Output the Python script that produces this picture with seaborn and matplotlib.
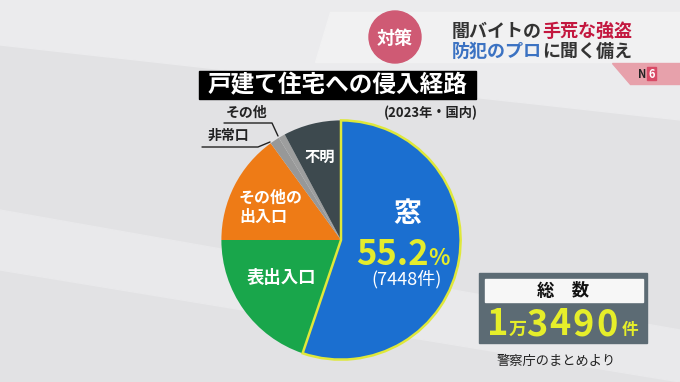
import matplotlib
matplotlib.use("Agg")
import matplotlib.pyplot as plt
import seaborn as sns
from matplotlib.patches import Rectangle, Circle, Polygon

# --- data ---
routes = ["窓", "表出入口", "その他の出入口", "非常口", "その他", "不明"]
shares = [55.2, 19.8, 15.0, 1.3, 0.9, 7.8]
route_colors = ["#1b6fd0", "#19a64b", "#ee7b16", "#979898", "#9d9e9e", "#3d494e"]
window_count = 7448
total_count = "3490"

title = "戸建て住宅への侵入経路"
subtitle = "(2023年・国内)"
source = "警察庁のまとめより"

sns.set_theme(style="white")
plt.rcParams["font.family"] = ["Noto Sans CJK JP", "DejaVu Sans"]

fig = plt.figure(figsize=(6.8, 3.82), dpi=100)
fig.patch.set_facecolor("#e2e2e4")


def pixel_axes(z):
    a = fig.add_axes([0, 0, 1, 1])
    a.set_xlim(0, 680)
    a.set_ylim(382, 0)
    a.axis("off")
    a.set_zorder(z)
    return a


back = pixel_axes(0)
# soft diagonal bands in the backdrop
back.add_patch(Polygon([(0, 0), (680, 0), (680, 120), (0, 45)], color="#ebebed"))
back.add_patch(Polygon([(0, 210), (680, 330), (680, 382), (0, 270)], color="#e9e9eb"))
back.add_patch(Polygon([(330, 12), (680, 12), (680, 62), (315, 62)], color="#f1f1f2"))

# --- pie ---
cx, cy, r = 341, 240, 122
pax = fig.add_axes([(cx - r) / 680, (382 - cy - r) / 382, 2 * r / 680, 2 * r / 382])
pax.set_zorder(1)
wedges, _ = pax.pie(shares, colors=route_colors, startangle=90, counterclock=False,
                    radius=1, wedgeprops=dict(linewidth=0))
wedges[0].set_edgecolor("#dfe83a")
wedges[0].set_linewidth(1.8)
wedges[0].set_zorder(5)
pax.set_xlim(-1.02, 1.02)
pax.set_ylim(-1.02, 1.02)
pax.axis("off")

front = pixel_axes(2)
renderer = fig.canvas.get_renderer()


def run_text(x, y, parts, gap=0):
    # place text pieces one after another on a shared baseline
    for s, size, color in parts:
        t = front.text(x, y, s, fontsize=size, color=color, fontweight="bold",
                       ha="left", va="baseline", zorder=6)
        x += t.get_window_extent(renderer=renderer).width + gap
    return x


# --- header ---
front.add_patch(Circle((395, 37), 26, color="#cf5a74", zorder=2))
front.text(395, 38, "対策", fontsize=13, color="white", fontweight="bold",
           ha="center", va="center", zorder=3)
run_text(452, 37, [("闇バイトの", 13, "#333333"), ("手荒な強盗", 13, "#c3173f")])
run_text(452, 57, [("防犯のプロ", 13, "#3b72c2"), ("に聞く備え", 13, "#333333")])
front.add_patch(Polygon([(612, 63), (680, 63), (680, 84), (630, 84)], color="#e7a1ab", zorder=2))
front.text(642, 74, "N", fontsize=8, color="#222222", fontweight="bold", ha="center", va="center", zorder=3)
front.add_patch(Rectangle((647, 67), 9, 13, color="#d84a66", zorder=3))
front.text(651.5, 74, "6", fontsize=8, color="white", fontweight="bold", ha="center", va="center", zorder=4)

# --- title ---
front.add_patch(Rectangle((199, 71), 277, 28, color="black", zorder=2))
front.text(337, 85, title, fontsize=17, color="white", fontweight="bold",
           ha="center", va="center", zorder=3)
front.text(478, 113, subtitle, fontsize=9.5, color="#222222", fontweight="bold",
           ha="right", va="center")

# labels inside the pie
front.text(407, 214, routes[0], fontsize=20, color="white", fontweight="bold", ha="center", va="center")
x = run_text(356, 265, [("55.2", 25, "#e4ec2c")])
run_text(x, 265, [("%", 16, "#e4ec2c")])
front.text(407, 279, f"({window_count}件)", fontsize=13, color="white", ha="center", va="center")
front.text(281, 278, routes[1], fontsize=12.5, color="white", fontweight="bold", ha="center", va="center")
front.text(239, 198, "その他の", fontsize=11.5, color="white", fontweight="bold", ha="left", va="center")
front.text(239, 217, "出入口", fontsize=11.5, color="white", fontweight="bold", ha="left", va="center")
front.text(320, 157, routes[5], fontsize=11, color="white", fontweight="bold", ha="center", va="center")

# small slices labelled outside with leader lines
front.text(247, 113, routes[4], fontsize=10, color="#222222", fontweight="bold", ha="center", va="center")
front.plot([224, 272, 278], [123, 123, 136], color="#222222", lw=1)
front.text(228, 136, routes[3], fontsize=10, color="#222222", fontweight="bold", ha="center", va="center")
front.plot([202, 258, 270], [147, 147, 142], color="#222222", lw=1)

# --- total box ---
front.add_patch(Rectangle((479, 273), 168, 70, color="#5c6b74", zorder=2))
front.add_patch(Rectangle((485, 279), 158, 23, color="#f7f7f7", zorder=3))
front.text(563, 291, "総　数", fontsize=12.5, color="#111111", fontweight="bold",
           ha="center", va="center", zorder=4)
x = run_text(487, 335, [("1", 26, "#e6ee2a")])
x = run_text(x, 335, [("万", 13, "#e6ee2a")])
for d in total_count:
    x = run_text(x, 335, [(d, 26, "#e6ee2a")], gap=2)
run_text(x + 2, 335, [("件", 12, "#e6ee2a")])

front.text(556, 361, source, fontsize=9.5, color="#222222", ha="center", va="center")

fig.savefig("out.png", dpi=100)
